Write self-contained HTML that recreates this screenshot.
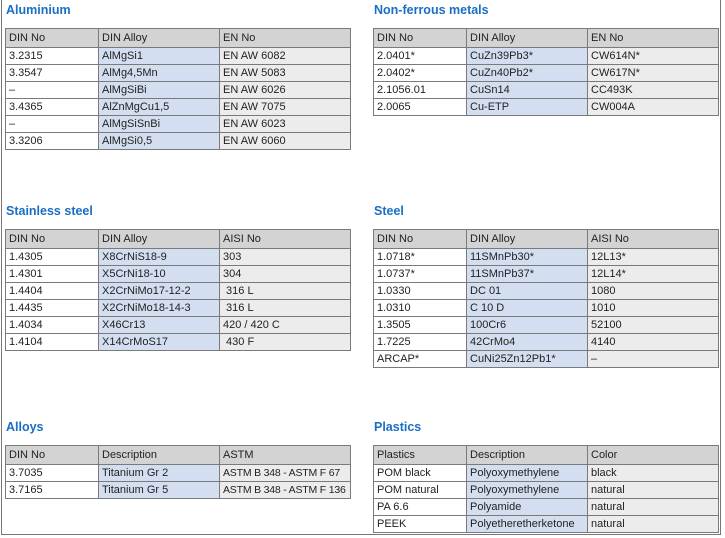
<!DOCTYPE html>
<html><head><meta charset="utf-8"><style>
body{margin:0;width:725px;height:538px;background:#fff;position:relative;overflow:hidden;font-family:"Liberation Sans",sans-serif;}
.frame{position:absolute;left:1px;top:-2px;width:720px;height:537px;border:1px solid #777;box-sizing:border-box;}
h2{position:absolute;margin:0;font-size:12.5px;font-weight:bold;color:#1a6fc4;}
table{position:absolute;border-collapse:collapse;table-layout:fixed;font-size:11px;color:#222;border:1.5px solid #555;}
td{border:1px solid #7a7a7a;padding:0 0 0 3px;height:16px;line-height:16px;white-space:nowrap;overflow:hidden;}
tr.h td{background:#d3d3d3;height:18px;}
td.b{background:#d3dff0;}
td.g{background:#ececec;}
td.s{font-size:10.5px;letter-spacing:-0.2px;}
</style></head><body>
<div class="frame"></div>

<h2 style="left:6px;top:3px">Aluminium</h2>
<table style="left:5px;top:28px;width:345px">
<colgroup><col style="width:93px"><col style="width:121px"><col style="width:131px"></colgroup>
<tr class="h"><td>DIN No</td><td>DIN Alloy</td><td>EN No</td></tr>
<tr><td>3.2315</td><td class="b">AlMgSi1</td><td class="g">EN AW 6082</td></tr>
<tr><td>3.3547</td><td class="b">AlMg4,5Mn</td><td class="g">EN AW 5083</td></tr>
<tr><td>–</td><td class="b">AlMgSiBi</td><td class="g">EN AW 6026</td></tr>
<tr><td>3.4365</td><td class="b">AlZnMgCu1,5</td><td class="g">EN AW 7075</td></tr>
<tr><td>–</td><td class="b">AlMgSiSnBi</td><td class="g">EN AW 6023</td></tr>
<tr><td>3.3206</td><td class="b">AlMgSi0,5</td><td class="g">EN AW 6060</td></tr>
</table>

<h2 style="left:374px;top:3px">Non-ferrous metals</h2>
<table style="left:373px;top:28px;width:345px">
<colgroup><col style="width:93px"><col style="width:121px"><col style="width:131px"></colgroup>
<tr class="h"><td>DIN No</td><td>DIN Alloy</td><td>EN No</td></tr>
<tr><td>2.0401*</td><td class="b">CuZn39Pb3*</td><td class="g">CW614N*</td></tr>
<tr><td>2.0402*</td><td class="b">CuZn40Pb2*</td><td class="g">CW617N*</td></tr>
<tr><td>2.1056.01</td><td class="b">CuSn14</td><td class="g">CC493K</td></tr>
<tr><td>2.0065</td><td class="b">Cu-ETP</td><td class="g">CW004A</td></tr>
</table>

<h2 style="left:6px;top:204px">Stainless steel</h2>
<table style="left:5px;top:229px;width:345px">
<colgroup><col style="width:93px"><col style="width:121px"><col style="width:131px"></colgroup>
<tr class="h"><td>DIN No</td><td>DIN Alloy</td><td>AISI No</td></tr>
<tr><td>1.4305</td><td class="b">X8CrNiS18-9</td><td class="g">303</td></tr>
<tr><td>1.4301</td><td class="b">X5CrNi18-10</td><td class="g">304</td></tr>
<tr><td>1.4404</td><td class="b">X2CrNiMo17-12-2</td><td class="g">&nbsp;316 L</td></tr>
<tr><td>1.4435</td><td class="b">X2CrNiMo18-14-3</td><td class="g">&nbsp;316 L</td></tr>
<tr><td>1.4034</td><td class="b">X46Cr13</td><td class="g">420 / 420 C</td></tr>
<tr><td>1.4104</td><td class="b">X14CrMoS17</td><td class="g">&nbsp;430 F</td></tr>
</table>

<h2 style="left:374px;top:204px">Steel</h2>
<table style="left:373px;top:229px;width:345px">
<colgroup><col style="width:93px"><col style="width:121px"><col style="width:131px"></colgroup>
<tr class="h"><td>DIN No</td><td>DIN Alloy</td><td>AISI No</td></tr>
<tr><td>1.0718*</td><td class="b">11SMnPb30*</td><td class="g">12L13*</td></tr>
<tr><td>1.0737*</td><td class="b">11SMnPb37*</td><td class="g">12L14*</td></tr>
<tr><td>1.0330</td><td class="b">DC 01</td><td class="g">1080</td></tr>
<tr><td>1.0310</td><td class="b">C 10 D</td><td class="g">1010</td></tr>
<tr><td>1.3505</td><td class="b">100Cr6</td><td class="g">52100</td></tr>
<tr><td>1.7225</td><td class="b">42CrMo4</td><td class="g">4140</td></tr>
<tr><td>ARCAP*</td><td class="b">CuNi25Zn12Pb1*</td><td class="g">–</td></tr>
</table>

<h2 style="left:6px;top:420px">Alloys</h2>
<table style="left:5px;top:445px;width:345px">
<colgroup><col style="width:93px"><col style="width:121px"><col style="width:131px"></colgroup>
<tr class="h"><td>DIN No</td><td>Description</td><td>ASTM</td></tr>
<tr><td>3.7035</td><td class="b">Titanium Gr 2</td><td class="g s">ASTM B 348 - ASTM F 67</td></tr>
<tr><td>3.7165</td><td class="b">Titanium Gr 5</td><td class="g s">ASTM B 348 - ASTM F 136</td></tr>
</table>

<h2 style="left:374px;top:420px">Plastics</h2>
<table style="left:373px;top:445px;width:345px">
<colgroup><col style="width:93px"><col style="width:121px"><col style="width:131px"></colgroup>
<tr class="h"><td>Plastics</td><td>Description</td><td>Color</td></tr>
<tr><td>POM black</td><td class="b">Polyoxymethylene</td><td class="g">black</td></tr>
<tr><td>POM natural</td><td class="b">Polyoxymethylene</td><td class="g">natural</td></tr>
<tr><td>PA 6.6</td><td class="b">Polyamide</td><td class="g">natural</td></tr>
<tr><td>PEEK</td><td class="b">Polyetheretherketone</td><td class="g">natural</td></tr>
</table>
</body></html>
